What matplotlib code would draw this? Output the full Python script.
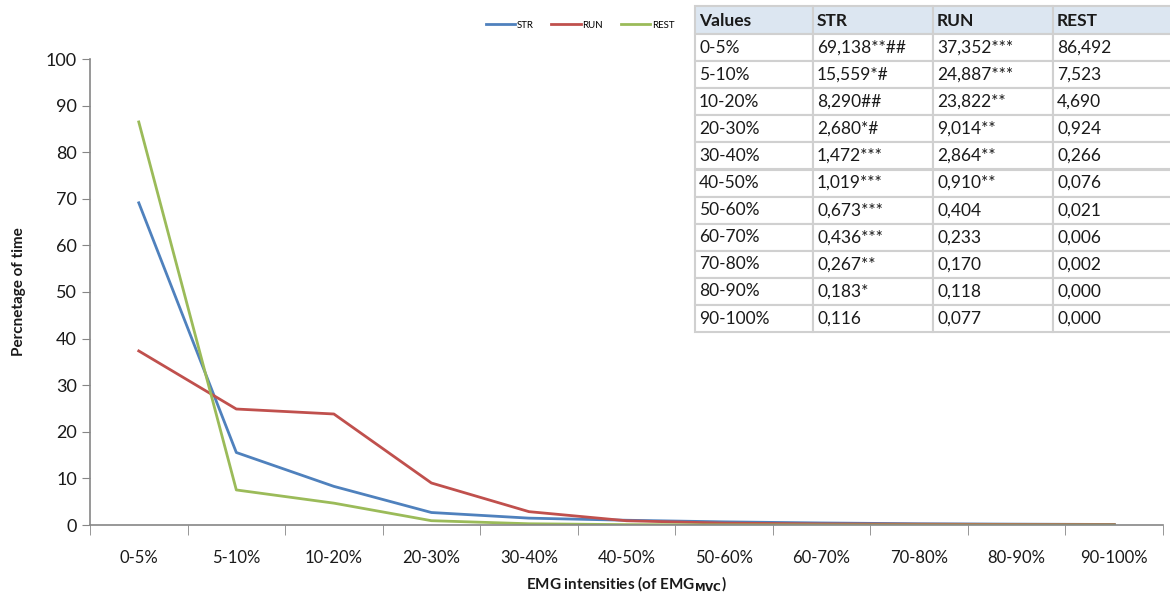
import matplotlib

matplotlib.use("Agg")
import matplotlib.pyplot as plt
from matplotlib.patches import Rectangle

categories = ["0-5%", "5-10%", "10-20%", "20-30%", "30-40%", "40-50%",
              "50-60%", "60-70%", "70-80%", "80-90%", "90-100%"]
str_vals = [69.138, 15.559, 8.290, 2.680, 1.472, 1.019, 0.673, 0.436, 0.267, 0.183, 0.116]
run_vals = [37.352, 24.887, 23.822, 9.014, 2.864, 0.910, 0.404, 0.233, 0.170, 0.118, 0.077]
rest_vals = [86.492, 7.523, 4.690, 0.924, 0.266, 0.076, 0.021, 0.006, 0.002, 0.000, 0.000]

str_marks = ["**##", "*#", "##", "*#", "***", "***", "***", "***", "**", "*", ""]
run_marks = ["***", "***", "**", "**", "**", "**", "", "", "", "", ""]
table_header = ["Values", "STR", "RUN", "REST"]

BLUE = "#4f81bd"
RED = "#c0504d"
GREEN = "#9bbb59"
AXIS = "#868686"
TEXT = "#1a1a1a"

plt.rcParams["font.family"] = ["Lato", "DejaVu Sans"]

W, H = 1170, 596
fig = plt.figure(figsize=(W / 100, H / 100), dpi=100)
ax = fig.add_axes([90 / W, 1 - 525 / H, (1163 - 90) / W, (525 - 59) / H])

x = list(range(len(categories)))
ax.plot(x, str_vals, color=BLUE, lw=2.0, label="STR")
ax.plot(x, run_vals, color=RED, lw=2.0, label="RUN")
ax.plot(x, rest_vals, color=GREEN, lw=2.0, label="REST")

ax.set_xlim(-0.5, len(categories) - 0.5)
ax.set_ylim(0, 100)
ax.set_yticks(range(0, 101, 10))
ax.tick_params(axis="y", labelsize=13, colors=AXIS, labelcolor=TEXT, length=6, direction="out")
ax.set_xticks(x)
ax.set_xticklabels(categories, fontsize=12, color=TEXT)
ax.set_xticks([i - 0.5 for i in range(len(categories) + 1)], minor=True)
ax.tick_params(axis="x", which="major", length=0, pad=18)
ax.tick_params(axis="x", which="minor", length=7, color=AXIS)

for side in ("top", "right"):
    ax.spines[side].set_visible(False)
for side in ("left", "bottom"):
    ax.spines[side].set_color(AXIS)
    ax.spines[side].set_linewidth(1.2)

ax.set_ylabel("Percnetage of time", fontsize=11, fontweight="bold", color=TEXT, labelpad=14)
ax.set_xlabel("EMG intensities (of EMG$_{\\mathbf{MVC}}$)", fontsize=11,
              fontweight="bold", color=TEXT, labelpad=6)

fig.legend(loc="center", bbox_to_anchor=(580 / W, 1 - 25 / H), ncol=3, frameon=False,
           fontsize=7, handlelength=3.0, handletextpad=0.2, columnspacing=1.8,
           borderaxespad=0)

# table overlay in pixel coordinates
tax = fig.add_axes([0, 0, 1, 1])
tax.set_xlim(0, W)
tax.set_ylim(H, 0)
tax.axis("off")

col_edges = [695, 813, 933, 1053, 1172]
header_top, header_bot, row_h = 6, 34, 27.1

rows = []
for i, cat in enumerate(categories):
    s = f"{str_vals[i]:.3f}".replace(".", ",") + str_marks[i]
    r = f"{run_vals[i]:.3f}".replace(".", ",") + run_marks[i]
    t = f"{rest_vals[i]:.3f}".replace(".", ",")
    rows.append([cat, s, r, t])

edge = "#d0d0d0"
for c in range(4):
    x0, x1 = col_edges[c], col_edges[c + 1]
    tax.add_patch(Rectangle((x0, header_top), x1 - x0, header_bot - header_top,
                            facecolor="#dce6f1", edgecolor=edge, lw=1.5))
    tax.text(x0 + 4, (header_top + header_bot) / 2 + 1, table_header[c], fontsize=12.5,
             fontweight="bold", va="center", ha="left", color=TEXT)
    for i, row in enumerate(rows):
        y0 = header_bot + i * row_h
        tax.add_patch(Rectangle((x0, y0), x1 - x0, row_h, facecolor="white",
                                edgecolor=edge, lw=1.5))
        tax.text(x0 + 4, y0 + row_h / 2, row[c], fontsize=12.5, va="center",
                 ha="left", color=TEXT)

fig.savefig("out.png", dpi=100)
